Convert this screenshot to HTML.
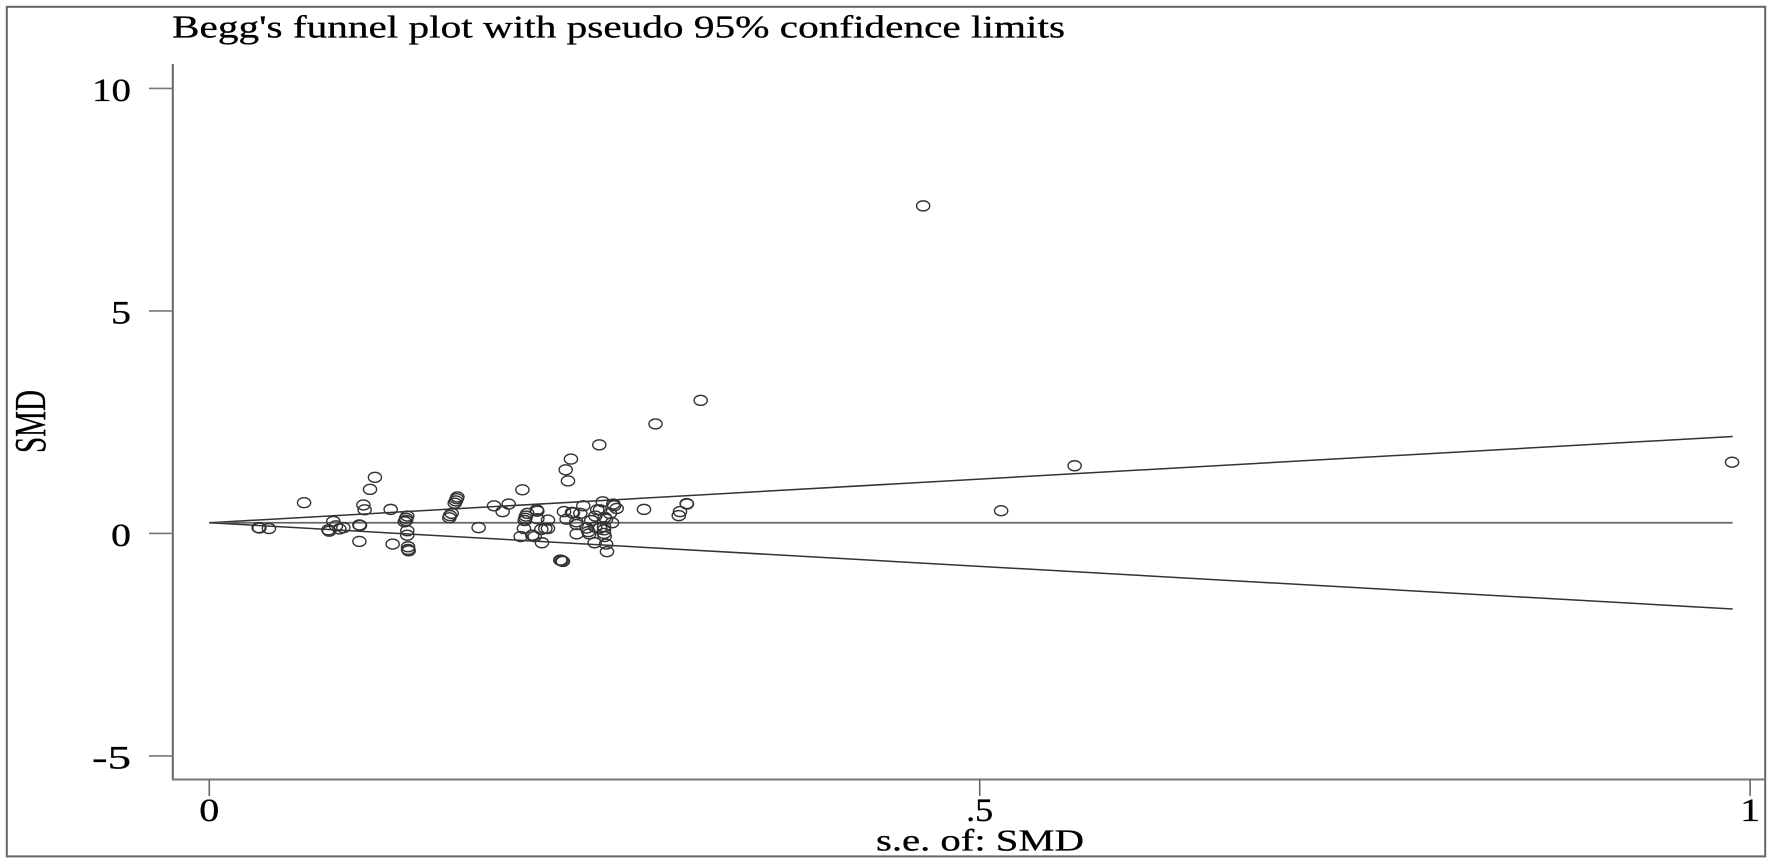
<!DOCTYPE html>
<html lang="en">
<head>
<meta charset="utf-8">
<title>Begg's funnel plot</title>
<style>
html,body{margin:0;padding:0;background:#fff;width:1772px;height:864px;overflow:hidden}
svg{display:block}
text{font-family:"Liberation Serif",serif;fill:#000;stroke:#000;stroke-width:0.3px}
</style>
</head>
<body>
<svg id="chart" xmlns="http://www.w3.org/2000/svg" width="1772" height="864" viewBox="0 0 1772 864">
<rect x="0" y="0" width="1772" height="864" fill="#fff"/>
<rect x="6.8" y="6.8" width="1758.4" height="849.6" fill="none" stroke="#666" stroke-width="2"/>
<text x="172" y="37.5" font-size="32" textLength="893" lengthAdjust="spacingAndGlyphs">Begg's funnel plot with pseudo 95% confidence limits</text>
<text transform="translate(45,453) rotate(-90)" font-size="44" textLength="63" lengthAdjust="spacingAndGlyphs">SMD</text>
<text x="876" y="850.5" font-size="31" textLength="208" lengthAdjust="spacingAndGlyphs">s.e. of: SMD</text>
<line x1="172.8" y1="64" x2="172.8" y2="779.5" stroke="#666" stroke-width="2"/>
<line x1="172" y1="779.5" x2="1765" y2="779.5" stroke="#777" stroke-width="2"/>
<g id="ticks"></g>
<g id="funnel"></g>
<g id="points"></g>
</svg>
<script>
const xTicks = [0, 0.5, 1];
const xTickLabels = ["0", ".5", "1"];
const yTicks = [-5, 0, 5, 10];
const yTickLabels = ["-5", "0", "5", "10"];
const pooledEffect = 0.24;
const criticalZ = 1.96;
const maxSe = 0.9887;
const seValues = [
.1075,.1043,.0615,.1,.1008,.1177,.032,.0325,.0387,.0805,.0773,.0778,.0822,.0844,.087,.0974,.0978,.0974,.119,
.1285,.1277,.1277,.1268,.1285,.1285,.129,.129,.1294,.161,.1606,.16,.1593,.1573,.1562,.1558,.1748,.1848,
.2531,.2347,.2313,.2328,.2032,.1943,.1904,.2125,.2064,.2055,.2051,.2047,.2042,.2021,.2096,.2112,.2159,.2129,.2198,.2129,.2155,.2181,.2198,
.2302,.2354,.2356,.236,.2408,.2427,.2319,.2382,.2384,.2384,.2449,.246,.2466,.2479,.2501,.2505,.2505,.2518,.2536,.2536,.2553,.2566,.2562,.2562,.2562,.2566,.2575,.2581,.2575,.26,.2614,.2622,.2627,.2644,
.2821,.3055,.3047,.3098,.31,.2287,.2278,.2295,
.4633,.5616,.5139,.9883,.3189,.2896
];
const smdValues = [
1.26,.99,.69,.64,.53,.54,.13,.12,.11,.27,.08,.05,.17,.10,.13,.19,.18,-.18,-.24,
.39,.34,.29,.26,.06,-.04,-.30,-.36,-.39,.82,.78,.73,.68,.45,.40,.35,.13,.62,
1.99,1.67,1.43,1.18,.98,.66,.49,.53,.45,.39,.34,.29,.11,-.07,-.04,-.07,-.21,.33,.30,.50,.09,.11,.11,
.49,.47,.47,.46,.45,.62,.32,.26,.20,-.01,.12,.04,-.01,.29,-.21,.14,.39,.53,.53,.12,.71,.36,.15,.08,0,-.07,-.24,-.41,.32,.45,.24,.66,.62,.56,
.54,.49,.40,.67,.66,-.61,-.60,-.63,
7.36,1.52,.51,1.60,2.99,2.46
];

const NS = "http://www.w3.org/2000/svg";
function xScale(v) { return 209.3 + v * 1540.8; }
function yScale(v) { return 533.4 - v * 44.5; }
function make(tag, attrs, parent) {
  const el = document.createElementNS(NS, tag);
  for (const k in attrs) el.setAttribute(k, attrs[k]);
  parent.appendChild(el);
  return el;
}

const tickGroup = document.getElementById("ticks");
xTicks.forEach(function (t, i) {
  const line = make("line", {x1: xScale(t), y1: 779.5, x2: xScale(t), y2: 796, stroke: "#666", "stroke-width": 1.6}, tickGroup);
  
  
  const label = make("text", {x: xScale(t), y: 821, "font-size": 33, "text-anchor": "middle"}, tickGroup);
  label.textContent = xTickLabels[i];
  
  
  label.setAttribute('textLength', xTickLabels[i].length === 1 ? 20 : 27);
  label.setAttribute('lengthAdjust', 'spacingAndGlyphs');
});
yTicks.forEach(function (t, i) {
  const line = make("line", {x1: 149, y1: yScale(t), x2: 172.8, y2: yScale(t), stroke: "#777", "stroke-width": 1.6}, tickGroup);
  
  
  const label = make("text", {x: 131, y: yScale(t) + 12.6, "font-size": 33, "text-anchor": "end"}, tickGroup);
  label.textContent = yTickLabels[i];
  
  
  label.setAttribute('textLength', yTickLabels[i].length === 1 ? 20 : 39);
  label.setAttribute('lengthAdjust', 'spacingAndGlyphs');
});

const funnelGroup = document.getElementById("funnel");
const upperLimit = make("line", {x1: xScale(0), y1: yScale(pooledEffect), x2: xScale(maxSe), y2: yScale(pooledEffect + criticalZ * maxSe), stroke: "#333", "stroke-width": 1.5}, funnelGroup);


const centerLine = make("line", {x1: xScale(0), y1: yScale(pooledEffect), x2: xScale(maxSe), y2: yScale(pooledEffect), stroke: "#666", "stroke-width": 1.7}, funnelGroup);


const lowerLimit = make("line", {x1: xScale(0), y1: yScale(pooledEffect), x2: xScale(maxSe), y2: yScale(pooledEffect - criticalZ * maxSe), stroke: "#333", "stroke-width": 1.5}, funnelGroup);



const pointGroup = document.getElementById("points");
seValues.forEach(function (se, i) {
  const p = make("ellipse", {cx: xScale(se), cy: yScale(smdValues[i]), rx: 6.6, ry: 5, fill: "none", stroke: "#333", "stroke-width": 1.4}, pointGroup);
  
  
});
</script>
</body>
</html>
